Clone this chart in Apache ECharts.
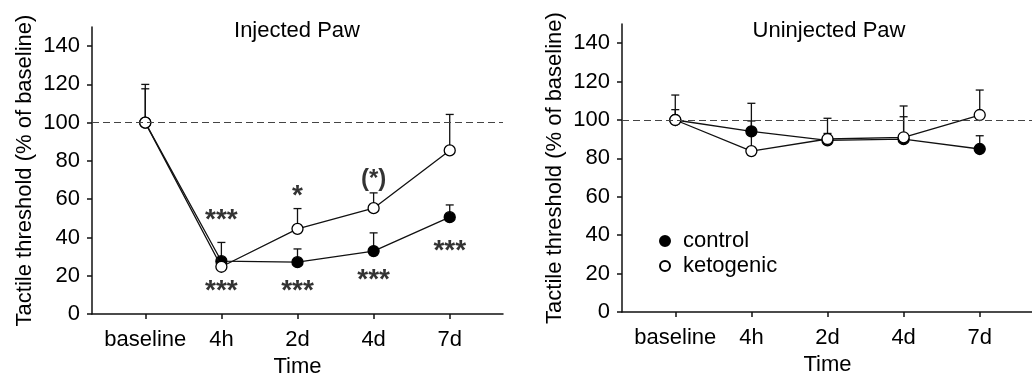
<!DOCTYPE html>
<html><head><meta charset="utf-8">
<script src="https://cdn.jsdelivr.net/npm/echarts@6/dist/echarts.min.js"></script>
<style>html,body{margin:0;padding:0;background:#fff}#c{width:1032px;height:377px}</style>
</head><body><div id="c"></div>
<script>
// ---- data ----
const categories = ['baseline', '4h', '2d', '4d', '7d'];
const yTicks = [0, 20, 40, 60, 80, 100, 120, 140];
// Injected paw: means and upper end of error bars (null = not visible)
const injControl    = [100, 27.6, 27.1, 32.9, 50.6];
const injControlErr = [120, 37.4, 34.0, 42.4, 57.0];
const injKeto       = [100, 24.7, 44.5, 55.3, 85.5];
const injKetoErr    = [117.7, null, 55.1, 63.3, 104.3];
// Uninjected paw
const uninjControl    = [100, 94.1, 89.4, 90.0, 84.9];
const uninjControlErr = [113.0, 108.7, 93.0, 107.3, 91.8];
const uninjKeto       = [100, 83.8, 90.1, 91.0, 102.6];
const uninjKetoErr    = [105.4, 99.5, 100.9, 101.7, 115.6];
// significance annotations (category index, value, text)
const injAnnotations = [
  [1, 48.8, '***'], [1, 11.7, '***'],
  [2, 61.3, '*'], [2, 11.7, '***'],
  [3, 70.4, '(*)'], [3, 17.5, '***'],
  [4, 32.6, '***']
];

const FONT = "'Liberation Sans', Arial, Helvetica, sans-serif";
const INK = '#111';

function xAxisCfg(gi) {
  return {
    type: 'value', gridIndex: gi, min: -0.7, max: 4.7,
    axisLine: { show: true, onZero: false, lineStyle: { color: INK, width: 1.5 } },
    axisTick: { show: true, customValues: [0, 1, 2, 3, 4], length: 5, lineStyle: { color: INK, width: 1.5 } },
    axisLabel: { customValues: [0, 1, 2, 3, 4], formatter: v => categories[Math.round(v)], margin: 15, fontSize: 22, color: '#000', fontFamily: FONT },
    splitLine: { show: false },
    name: 'Time', nameLocation: 'middle', nameGap: 42,
    nameTextStyle: { fontSize: 22, color: '#000', fontFamily: FONT }
  };
}
function yAxisCfg(gi) {
  return {
    type: 'value', gridIndex: gi, min: 0, max: 150,
    axisLine: { show: true, onZero: false, lineStyle: { color: INK, width: 1.5 } },
    axisTick: { show: true, customValues: yTicks, length: 5, lineStyle: { color: INK, width: 1.5 } },
    axisLabel: { customValues: yTicks, margin: 12, fontSize: 22, color: '#000', fontFamily: FONT },
    splitLine: { show: false },
    name: 'Tactile threshold (% of baseline)', nameLocation: 'middle', nameGap: 56,
    nameTextStyle: { fontSize: 22, color: '#000', fontFamily: FONT }
  };
}
function lineSeries(name, gi, vals, open) {
  return {
    name, type: 'line', xAxisIndex: gi, yAxisIndex: gi,
    data: vals.map((v, i) => [i, v]),
    symbol: 'circle', symbolSize: 11, showSymbol: true,
    lineStyle: { color: INK, width: 1.3 },
    itemStyle: open ? { color: '#fff', borderColor: '#000', borderWidth: 1.3 }
                    : { color: '#000', borderColor: '#000', borderWidth: 1.3 },
    z: open ? 4 : 3, animation: false, silent: true
  };
}
function errSeries(gi, means, uppers) {
  return {
    type: 'custom', xAxisIndex: gi, yAxisIndex: gi, z: 1, silent: true, animation: false,
    data: means.map((m, i) => uppers[i] == null ? null : [i, m, uppers[i]]).filter(Boolean),
    renderItem: (params, api) => {
      const p0 = api.coord([api.value(0), api.value(1)]);
      const p1 = api.coord([api.value(0), api.value(2)]);
      return { type: 'group', children: [
        { type: 'line', shape: { x1: p0[0], y1: p0[1], x2: p1[0], y2: p1[1] }, style: { stroke: INK, lineWidth: 1.3 } },
        { type: 'line', shape: { x1: p1[0] - 4, y1: p1[1], x2: p1[0] + 4, y2: p1[1] }, style: { stroke: INK, lineWidth: 1.3 } }
      ] };
    }
  };
}
function refLine() {
  return { silent: true, symbol: 'none', animation: false,
    label: { show: false },
    lineStyle: { type: [7, 4], color: '#444', width: 1 },
    data: [{ yAxis: 100 }] };
}

const ctl0 = lineSeries('control', 0, injControl, false); ctl0.markLine = refLine();
const ctl1 = lineSeries('control', 1, uninjControl, false); ctl1.markLine = refLine();

const option = {
  animation: false,
  textStyle: { fontFamily: FONT },
  grid: [
    { left: 92, width: 411, top: 27, height: 287, outerBoundsMode: 'none', containLabel: false },
    { left: 622, width: 411, top: 24, height: 288, outerBoundsMode: 'none', containLabel: false }
  ],
  xAxis: [xAxisCfg(0), xAxisCfg(1)],
  yAxis: [yAxisCfg(0), yAxisCfg(1)],
  graphic: [
    { type: 'text', x: 297, y: 31, style: { text: 'Injected Paw', align: 'center', verticalAlign: 'middle', fontSize: 22, fill: '#000', fontFamily: FONT } },
    { type: 'text', x: 829, y: 31, style: { text: 'Uninjected Paw', align: 'center', verticalAlign: 'middle', fontSize: 22, fill: '#000', fontFamily: FONT } }
  ],
  legend: {
    data: ['control', 'ketogenic'], orient: 'vertical', left: 654, top: 225,
    icon: 'circle', itemWidth: 26, itemHeight: 10, itemGap: 3,
    textStyle: { fontSize: 22, color: '#000', fontFamily: FONT },
    selectedMode: false
  },
  series: [
    errSeries(0, injControl, injControlErr),
    errSeries(0, injKeto, injKetoErr),
    ctl0,
    lineSeries('ketogenic', 0, injKeto, true),
    errSeries(1, uninjControl, uninjControlErr),
    errSeries(1, uninjKeto, uninjKetoErr),
    ctl1,
    lineSeries('ketogenic', 1, uninjKeto, true),
    {
      type: 'scatter', xAxisIndex: 0, yAxisIndex: 0, silent: true, animation: false,
      symbolSize: 1, itemStyle: { color: 'transparent' },
      data: injAnnotations.map(a => ({ value: [a[0], a[1]],
        label: { formatter: a[2], fontSize: a[2] === '(*)' ? 24 : 28 } })),
      label: { show: true, position: 'inside', color: '#000', textBorderWidth: 0, fontWeight: 'bold', fontFamily: FONT }
    }
  ]
};
echarts.init(document.getElementById('c'), null, { renderer: 'canvas' }).setOption(option);
</script></body></html>
